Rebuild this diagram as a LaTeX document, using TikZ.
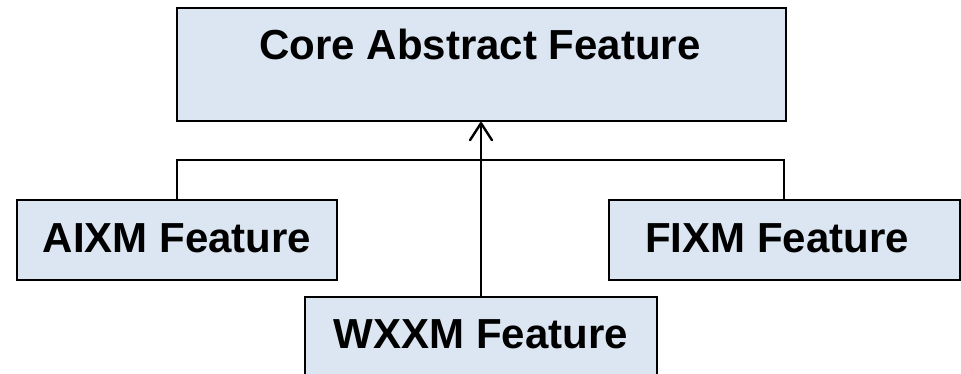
\documentclass[tikz,border=0pt]{standalone}
\usepackage{fontspec}
\setmainfont{Liberation Sans}
\usetikzlibrary{arrows.meta}
\definecolor{boxfill}{HTML}{DCE6F2}
\begin{document}
\begin{tikzpicture}[x=1pt,y=-1pt,
  featbox/.style={draw=black,line width=2pt,fill=boxfill,inner sep=0pt},
  feattext/.style={anchor=base,inner sep=0pt,font=\fontsize{42}{50}\selectfont\bfseries},
  link/.style={draw=black,line width=2pt}]
\useasboundingbox (0,0) rectangle (961,374);
\begin{scope}
\clip (0,0) rectangle (961,374);
% boxes
\node[featbox,minimum width=609pt,minimum height=113pt] (core) at (481,64.5) {};
\node[featbox,minimum width=320pt,minimum height=80pt] (aixm) at (177,240) {};
\node[featbox,minimum width=351pt,minimum height=80pt] (fixm) at (784,240) {};
\node[featbox,minimum width=352pt,minimum height=90pt] (wxxm) at (481,342) {};
% labels
\node[feattext] (coret) at (480,60) {Core Abstract Feature};
\node[feattext] (aixmt) at (177,252) {AIXM Feature};
\node[feattext] (fixmt) at (777,252) {FIXM Feature};
\node[feattext] (wxxmt) at (481,348) {WXXM Feature};
% connectors
\coordinate (bar) at (0,160);
\draw[link] (aixm.north) -- (aixm.north |- bar) -- (fixm.north |- bar) -- (fixm.north);
\draw[link,-{Straight Barb[length=17pt,width=22pt,line width=2.4pt,round]}] (wxxm.north -| core.south) -- (core.south);
\end{scope}
\end{tikzpicture}
\end{document}
